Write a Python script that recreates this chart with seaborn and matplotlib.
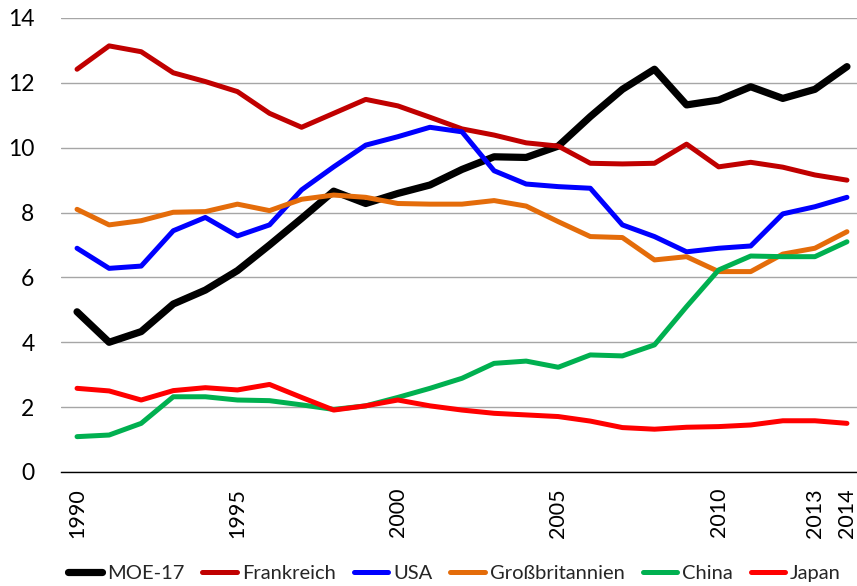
import numpy as np
import pandas as pd
import matplotlib
matplotlib.use("Agg")
import matplotlib.pyplot as plt
import seaborn as sns

# Jahre und Werte
jahre = list(range(1990, 2015))

moe17 = [4.94, 4.00, 4.33, 5.18, 5.61, 6.21, 7.00, 7.82, 8.66, 8.28, 8.59, 8.85, 9.33,
         9.72, 9.70, 10.05, 10.96, 11.80, 12.42, 11.32, 11.47, 11.88, 11.52, 11.80, 12.50]
frankreich = [12.42, 13.14, 12.96, 12.31, 12.04, 11.73, 11.06, 10.63, 11.06, 11.49, 11.29, 10.94, 10.58,
              10.39, 10.15, 10.05, 9.52, 9.50, 9.52, 10.11, 9.41, 9.55, 9.40, 9.16, 9.00]
usa = [6.90, 6.28, 6.35, 7.44, 7.85, 7.28, 7.62, 8.70, 9.41, 10.08, 10.34, 10.63, 10.49,
       9.29, 8.88, 8.80, 8.75, 7.62, 7.26, 6.79, 6.90, 6.97, 7.96, 8.18, 8.47]
grossbritannien = [8.10, 7.62, 7.75, 8.01, 8.03, 8.26, 8.06, 8.41, 8.54, 8.47, 8.28, 8.26, 8.26,
                   8.37, 8.20, 7.72, 7.26, 7.23, 6.54, 6.64, 6.18, 6.18, 6.72, 6.90, 7.41]
china = [1.09, 1.14, 1.50, 2.32, 2.32, 2.22, 2.20, 2.07, 1.93, 2.04, 2.30, 2.58, 2.89,
         3.35, 3.42, 3.23, 3.61, 3.58, 3.92, 5.10, 6.23, 6.66, 6.64, 6.64, 7.10]
japan = [2.58, 2.50, 2.22, 2.51, 2.60, 2.53, 2.70, 2.30, 1.91, 2.04, 2.22, 2.04, 1.91,
         1.81, 1.76, 1.71, 1.57, 1.37, 1.32, 1.38, 1.40, 1.45, 1.58, 1.58, 1.50]

namen = ["MOE-17", "Frankreich", "USA", "Großbritannien", "China", "Japan"]
werte = [moe17, frankreich, usa, grossbritannien, china, japan]
farben = ["#000000", "#C00000", "#0000FF", "#E46C0A", "#00B050", "#FF0000"]
breiten = [4.0, 2.4, 2.4, 2.4, 2.4, 2.4]

x_labels = [1990, 1995, 2000, 2005, 2010, 2013, 2014]

sns.set_style("white")
plt.rcParams["font.family"] = ["Lato", "DejaVu Sans"]

fig = plt.figure(figsize=(8.57, 5.86), dpi=100)
ax = fig.add_axes([61 / 857, 114 / 586, 802 / 857, 454 / 586])

for name, y, farbe, lw in zip(namen, werte, farben, breiten):
    sns.lineplot(x=jahre, y=y, color=farbe, linewidth=lw, label=name, ax=ax,
                 legend=False)

ax.set_xlim(1989.5, 2014.5)
ax.set_ylim(0, 14)
ax.set_yticks(range(0, 15, 2))
ax.yaxis.grid(True, color="#A6A6A6", linewidth=1)
ax.set_axisbelow(True)

ax.set_xticks(x_labels)
ax.set_xticklabels([str(j) for j in x_labels], rotation=90)
ax.set_xticks(np.arange(1989.5, 2015, 1), minor=True)
ax.tick_params(axis="x", which="major", length=0, pad=11.5, labelsize=15.5,
               labelcolor="black")
ax.tick_params(axis="x", which="minor", length=6, width=1, color="#A6A6A6", direction="out")
ax.tick_params(axis="y", length=0, pad=19, labelsize=16.5, labelcolor="black")

for s in ["left", "right", "top"]:
    ax.spines[s].set_visible(False)
ax.spines["bottom"].set_color("black")
ax.spines["bottom"].set_linewidth(1)
ax.set_xlabel("")
ax.set_ylabel("")

handles, labels = ax.get_legend_handles_labels()
for h in handles:
    h.set_linewidth(h.get_linewidth() + 1.2)
fig.legend(handles, labels, loc="center", bbox_to_anchor=(0.530, 0.022), ncol=6,
           frameon=False, fontsize=14.5, handlelength=1.7, handletextpad=0.25,
           columnspacing=0.9)

fig.savefig("out.png", dpi=100)
